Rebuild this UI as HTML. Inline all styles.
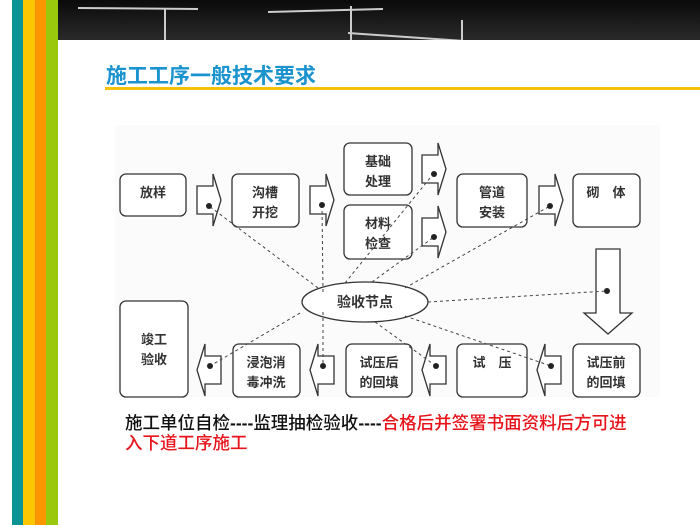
<!DOCTYPE html>
<html><head><meta charset="utf-8"><style>
body{margin:0;width:700px;height:525px;overflow:hidden;background:#fff;position:relative;font-family:"Liberation Sans","Noto Sans CJK SC",sans-serif}
.s{position:absolute;top:0;height:525px}
</style></head><body>
<div class="s" style="left:12px;width:11px;background:#0b9396"></div>
<div class="s" style="left:23px;width:12px;background:#fdc700"></div>
<div class="s" style="left:35px;width:11px;background:#fb9500"></div>
<div class="s" style="left:46px;width:12px;background:#99c80c"></div>
<div style="position:absolute;left:58px;top:0;width:642px;height:40px;background:linear-gradient(#0a0a0a,#2a2a2a)"></div>
<svg style="position:absolute;left:58px;top:0" width="642" height="40">
<g stroke="#ccc" stroke-width="2" fill="none">
<line x1="20" y1="8" x2="140" y2="9"/><line x1="107" y1="9" x2="107" y2="40"/>
<line x1="210" y1="12" x2="325" y2="9"/><line x1="293" y1="6" x2="293" y2="40"/>
<line x1="290" y1="33" x2="450" y2="44"/><line x1="404" y1="20" x2="404" y2="40"/>
</g></svg>
<div style="position:absolute;left:106px;top:60px;font-size:21px;font-weight:bold;color:#1a93cf">施工工序一般技术要求</div>
<div style="position:absolute;left:105px;top:87px;width:595px;height:3px;background:#f5c20a"></div>
<svg style="position:absolute;left:0;top:0" width="700" height="525" font-family="Liberation Sans,Noto Sans CJK SC,sans-serif" font-size="13" font-weight="bold" fill="#333">
<rect x="115" y="125" width="545" height="272" fill="#fbfbfb"/>
<g fill="#fff" stroke="#333" stroke-width="1.3">
<rect x="120" y="174" width="66" height="42" rx="6"/>
<rect x="232" y="174" width="67" height="53" rx="6"/>
<rect x="344" y="143" width="68" height="52" rx="6"/>
<rect x="344" y="205" width="68" height="54" rx="6"/>
<rect x="457" y="174" width="70" height="53" rx="6"/>
<rect x="573" y="174" width="67" height="53" rx="6"/>
<rect x="120" y="301" width="68" height="96" rx="6"/>
<rect x="233" y="344" width="67" height="53" rx="6"/>
<rect x="346" y="344" width="66" height="53" rx="6"/>
<rect x="457" y="344" width="70" height="53" rx="6"/>
<rect x="573" y="344" width="67" height="53" rx="6"/>
<ellipse cx="365" cy="302" rx="63" ry="20"/>
<path d="M197 186h16v-12l8 26l-8 26v-12h-16z"/>
<path d="M310 186h16v-12l8 26l-8 26v-12h-16z"/>
<path d="M422 155h16v-12l8 26l-8 26v-12h-16z"/>
<path d="M422 218h16v-12l8 26l-8 26v-12h-16z"/>
<path d="M539 186h16v-12l8 26l-8 26v-12h-16z"/>
<path d="M221 356h-16v-12l-8 26l8 26v-12h16z"/>
<path d="M334 356h-16v-12l-8 26l8 26v-12h16z"/>
<path d="M446 356h-16v-12l-8 26l8 26v-12h16z"/>
<path d="M561 356h-16v-12l-8 26l8 26v-12h16z"/>
<path d="M596 249h24v64h12l-24 21l-24-21h12z"/>
</g>
<g stroke="#444" stroke-width="1" stroke-dasharray="3,3" fill="none">
<line x1="318" y1="288" x2="209" y2="206"/>
<line x1="323" y1="292" x2="322" y2="205"/>
<line x1="345" y1="283" x2="434" y2="173"/>
<line x1="372" y1="282" x2="434" y2="237"/>
<line x1="405" y1="288" x2="550" y2="206"/>
<line x1="428" y1="302" x2="607" y2="291"/>
<line x1="405" y1="316" x2="551" y2="366"/>
<line x1="375" y1="322" x2="436" y2="366"/>
<line x1="323" y1="312" x2="323" y2="366"/>
<line x1="300" y1="313" x2="210" y2="366"/>
</g>
<g fill="#222">
<circle cx="209" cy="206" r="3"/><circle cx="322" cy="205" r="3"/><circle cx="434" cy="174" r="3"/><circle cx="434" cy="237" r="3"/><circle cx="550" cy="206" r="3"/><circle cx="607" cy="291" r="3"/>
<circle cx="210" cy="366" r="3"/><circle cx="323" cy="366" r="3"/><circle cx="436" cy="366" r="3"/><circle cx="551" cy="366" r="3"/>
</g>
<g text-anchor="middle">
<text x="153" y="197">放样</text>
<text x="265" y="197">沟槽</text><text x="265" y="217">开挖</text>
<text x="378" y="166">基础</text><text x="378" y="186">处理</text>
<text x="378" y="228">材料</text><text x="378" y="248">检查</text>
<text x="492" y="197">管道</text><text x="492" y="217">安装</text>
<text x="606" y="197">砌　体</text>
<text x="154" y="344">竣工</text><text x="154" y="364">验收</text>
<text x="266" y="367">浸泡消</text><text x="266" y="387">毒冲洗</text>
<text x="379" y="367">试压后</text><text x="379" y="387">的回填</text>
<text x="492" y="367">试　压</text>
<text x="606" y="367">试压前</text><text x="606" y="387">的回填</text>
<text x="365" y="307" font-size="14">验收节点</text>
</g>
</svg>
<div style="position:absolute;left:125px;top:413px;width:570px;font-size:17.5px;line-height:20px;color:#111;font-weight:500;white-space:nowrap">施工单位自检<b>----</b>监理抽检验收<b>----</b><span style="color:#e8141b">合格后并签署书面资料后方可进<br>入下道工序施工</span></div>
</body></html>
